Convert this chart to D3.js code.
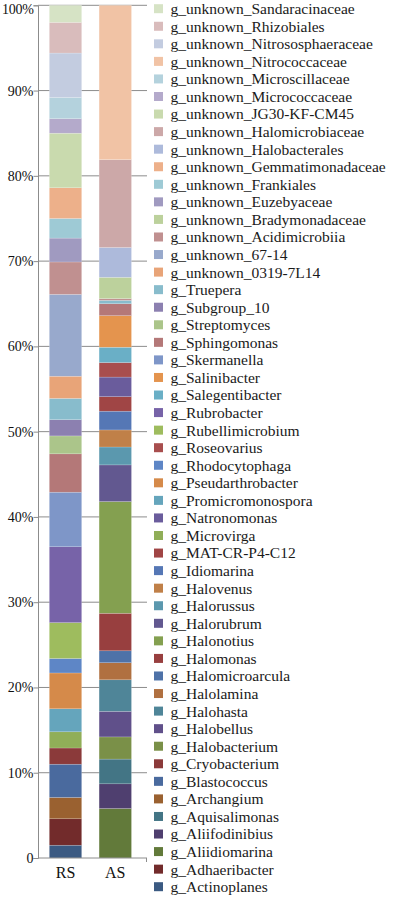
<!DOCTYPE html>
<html>
<head>
<meta charset="utf-8">
<script src="https://cdn.jsdelivr.net/npm/d3@7.9.0/dist/d3.min.js"></script>
<style>
  body { margin: 0; background: #fff; }
  svg text { font-family: "Liberation Serif", "DejaVu Serif", serif !important; }
</style>
</head>
<body>
<svg id="chart" width="398" height="903" font-family="Liberation Serif, DejaVu Serif, serif"></svg>
<script>
// genera, stacked from the bottom of each bar upwards
const genera = [
  "g_Actinoplanes", "g_Adhaeribacter", "g_Aliidiomarina", "g_Aliifodinibius", "g_Aquisalimonas", "g_Archangium",
  "g_Blastococcus", "g_Cryobacterium", "g_Halobacterium", "g_Halobellus", "g_Halohasta", "g_Halolamina",
  "g_Halomicroarcula", "g_Halomonas", "g_Halonotius", "g_Halorubrum", "g_Halorussus", "g_Halovenus",
  "g_Idiomarina", "g_MAT-CR-P4-C12", "g_Microvirga", "g_Natronomonas", "g_Promicromonospora", "g_Pseudarthrobacter",
  "g_Rhodocytophaga", "g_Roseovarius", "g_Rubellimicrobium", "g_Rubrobacter", "g_Salegentibacter", "g_Salinibacter",
  "g_Skermanella", "g_Sphingomonas", "g_Streptomyces", "g_Subgroup_10", "g_Truepera", "g_unknown_0319-7L14",
  "g_unknown_67-14", "g_unknown_Acidimicrobiia", "g_unknown_Bradymonadaceae", "g_unknown_Euzebyaceae", "g_unknown_Frankiales", "g_unknown_Gemmatimonadaceae",
  "g_unknown_Halobacterales", "g_unknown_Halomicrobiaceae", "g_unknown_JG30-KF-CM45", "g_unknown_Micrococcaceae", "g_unknown_Microscillaceae", "g_unknown_Nitrococcaceae",
  "g_unknown_Nitrososphaeraceae", "g_unknown_Rhizobiales", "g_unknown_Sandaracinaceae"
];

const samples = ["RS", "AS"];

// relative abundance (%), same order as genera
const rsValues = [
  1.5, 3.1, 0, 0, 0, 2.5,
  3.9, 1.9, 0, 0, 0, 0,
  0, 0, 0, 0, 0, 0,
  0, 0, 1.9, 0, 2.7, 4.2,
  1.7, 0, 4.2, 8.9, 0, 0,
  6.4, 4.5, 2.1, 1.9, 2.5, 2.6,
  9.6, 3.8, 0, 2.8, 2.3, 3.6,
  0, 0, 6.4, 1.7, 2.5, 0,
  5.2, 3.6, 2.0
];

const asValues = [
  0, 0, 5.8, 2.9, 2.9, 0,
  0, 0, 2.6, 3.0, 3.7, 2.0,
  1.4, 4.4, 13.1, 4.3, 2.1, 2.0,
  2.2, 1.7, 0, 2.3, 0, 0,
  0, 1.7, 0, 0, 1.8, 3.7,
  0, 1.4, 0, 0, 0.4, 0,
  0, 0.2, 2.5, 0, 0, 0,
  3.5, 10.3, 0, 0, 0, 18.1,
  0, 0, 0
];

const colors = [
  "#3b5a82", "#722b2b", "#627a3a", "#4f3f6f", "#437585", "#9a6130",
  "#4a6a9e", "#8b3a3a", "#7a9048", "#60508a", "#4f8598", "#b07040",
  "#4e72a8", "#983f3f", "#84a050", "#625890", "#5b98ae", "#c08048",
  "#5577b5", "#a04545", "#90ae58", "#6a5c9c", "#65a5bc", "#d58a4a",
  "#5e86c6", "#a84e4e", "#9ebc5e", "#7763a8", "#6aafc6", "#e4944e",
  "#7e96c8", "#b47878", "#abc58a", "#8c80b0", "#88bccc", "#e8a478",
  "#98a9cc", "#c09090", "#bcd19c", "#a09ac0", "#9ecad5", "#edb08a",
  "#adbadb", "#cca8a8", "#c9daae", "#b4aacb", "#b4d2dd", "#f1c3a5",
  "#c3cce0", "#d9bcbc", "#d6e3c5"
];

const yTicks = [0, 10, 20, 30, 40, 50, 60, 70, 80, 90, 100];

const svg = d3.select("#chart");

const plotLeft = 38, plotRight = 147;

const y = d3.scaleLinear().domain([0, 100]).range([858, 5.3]);

const x = d3.scaleBand()
  .domain(samples)
  .range([40.6, 140.2])
  .paddingInner(0.35)
  .paddingOuter(0.175);

const color = d3.scaleOrdinal().domain(genera).range(colors);

// gridlines
svg.append("g")
  .selectAll("line")
  .data(yTicks.filter(d => d > 0))
  .join("line")
  .attr("x1", plotLeft)
  .attr("x2", plotRight)
  .attr("y1", d => y(d))
  .attr("y2", d => y(d))
  .attr("stroke", "#8c8c8c")
  .attr("stroke-width", 1);

// stacked bars
const table = samples.map((s, i) => {
  const row = { sample: s };
  const vals = i === 0 ? rsValues : asValues;
  genera.forEach((g, j) => { row[g] = vals[j]; });
  return row;
});

const series = d3.stack().keys(genera)(table);

svg.append("g")
  .selectAll("g")
  .data(series)
  .join("g")
  .attr("fill", d => color(d.key))
  .selectAll("rect")
  .data(d => d.filter(p => p[1] - p[0] > 0))
  .join("rect")
  .attr("x", d => x(d.data.sample))
  .attr("width", x.bandwidth())
  .attr("y", d => y(d[1]))
  .attr("height", d => y(d[0]) - y(d[1]))
  .attr("stroke", "#ffffff")
  .attr("stroke-opacity", 0.35)
  .attr("stroke-width", 0.5);

// y axis
const yAxis = d3.axisLeft(y)
  .tickValues(yTicks)
  .tickSize(4.5)
  .tickPadding(0)
  .tickFormat(d => d === 0 ? "0" : d + "%");

svg.append("g")
  .attr("transform", `translate(${plotLeft},0)`)
  .call(yAxis)
  .attr("font-family", null)
  .attr("font-size", null)
  .call(g => g.select(".domain").attr("stroke", "#8c8c8c"))
  .call(g => g.selectAll(".tick line").attr("stroke", "#8c8c8c"))
  .call(g => g.selectAll(".tick text")
    .attr("fill", "#111")
    .attr("dy", d => d === 100 ? "0.6em" : "0.32em")
    .style("letter-spacing", d => d === 100 ? "-0.3px" : null)
    .style("font-size", "14px"));

// x axis
svg.append("line")
  .attr("x1", plotLeft).attr("x2", plotRight)
  .attr("y1", y(0)).attr("y2", y(0))
  .attr("stroke", "#8c8c8c");

svg.append("line")
  .attr("x1", plotRight - 0.5).attr("x2", plotRight - 0.5)
  .attr("y1", y(0)).attr("y2", y(0) + 4)
  .attr("stroke", "#8c8c8c");

svg.append("g")
  .selectAll("text")
  .data(samples)
  .join("text")
  .attr("x", d => x(d) + x.bandwidth() / 2)
  .attr("y", 878)
  .attr("text-anchor", "middle")
  .attr("fill", "#111")
  .style("font-size", "16px")
  .text(d => d);

// legend, top entry is the last series
const legendItems = genera.slice().reverse();
const legend = svg.append("g")
  .selectAll("g")
  .data(legendItems)
  .join("g")
  .attr("transform", (d, i) => `translate(154,${8.7 + i * 17.56})`);

legend.append("rect")
  .attr("x", 0)
  .attr("y", -4.5)
  .attr("width", 9)
  .attr("height", 9)
  .attr("fill", d => color(d));

legend.append("text")
  .attr("x", 16.5)
  .attr("y", 0)
  .attr("dy", "0.35em")
  .attr("fill", "#1a1a1a")
  .style("font-size", "15.5px")
  .text(d => d);
</script>
</body>
</html>
